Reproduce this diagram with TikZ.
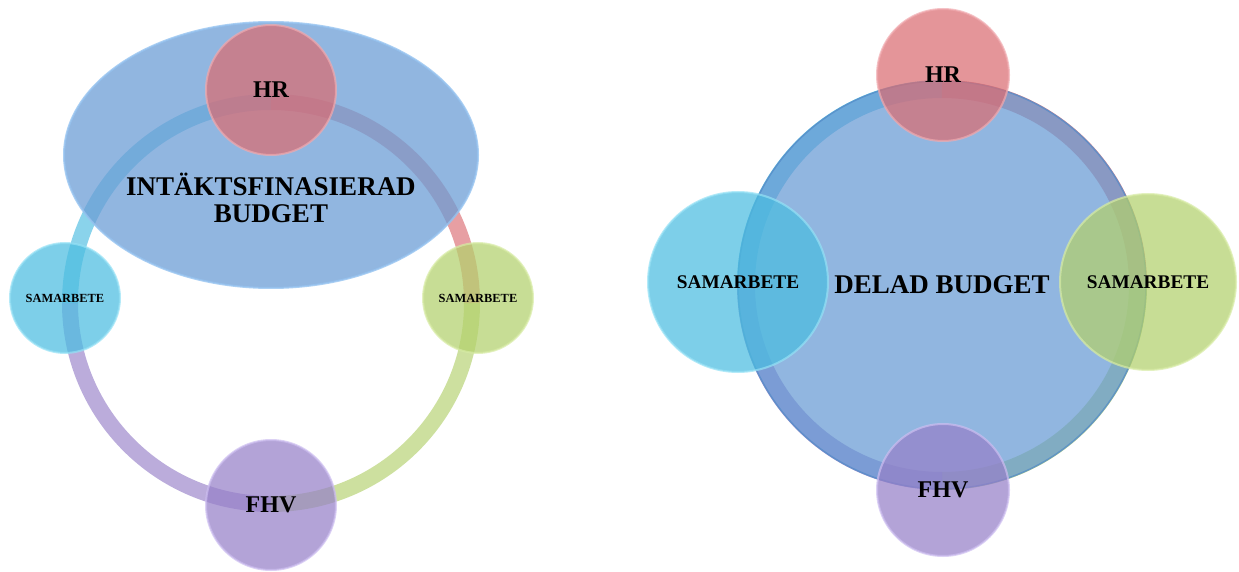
\documentclass[tikz,border=0pt]{standalone}
\usepackage{fontspec}
\setmainfont{Liberation Serif}
\usetikzlibrary{shapes.geometric}
\definecolor{cblue}{RGB}{108,158,214}
\definecolor{cblueedge}{RGB}{150,195,240}
\definecolor{cbluedark}{RGB}{85,140,200}
\definecolor{cred}{RGB}{218,108,114}
\definecolor{credge}{RGB}{240,170,175}
\definecolor{ccyan}{RGB}{75,188,224}
\definecolor{ccyanedge}{RGB}{150,225,245}
\definecolor{cgreen}{RGB}{178,208,108}
\definecolor{cgreenedge}{RGB}{215,235,165}
\definecolor{cpurple}{RGB}{150,128,200}
\definecolor{cpurpleedge}{RGB}{205,190,240}
\tikzset{
  ringseg/.style={line width=16pt, draw opacity=0.65},
  rimseg/.style={line width=18pt, draw opacity=0.8},
  bubble/.style={circle, inner sep=0pt, minimum size=#1, fill opacity=0.72,
    draw opacity=0.7, line width=2pt, text opacity=1, font=\bfseries},
  bigblue/.style={fill=cblue, fill opacity=0.75, draw=cblueedge, draw opacity=0.8,
    line width=2pt, text opacity=1, inner sep=0pt},
  lbl/.style={font=\bfseries, text=black}
}
\begin{document}
\begin{tikzpicture}[x=1pt,y=1pt]
\useasboundingbox (0,0) rectangle (1239,571);
% ---------------- left diagram ----------------
\coordinate (ringL) at (271,268);
\draw[ringseg, ccyan]   (ringL) ++(90:201)  arc[start angle=90,  end angle=180, radius=201];
\draw[ringseg, cpurple] (ringL) ++(180:201) arc[start angle=180, end angle=270, radius=201];
\draw[ringseg, cgreen]  (ringL) ++(270:201) arc[start angle=270, end angle=360, radius=201];
\draw[ringseg, cred]    (ringL) ++(0:201)   arc[start angle=0,   end angle=90,  radius=201];
\node[bigblue, ellipse, minimum width=414, minimum height=266] (budgetL) at (271,416) {};
\node[lbl, align=center, font=\bfseries\fontsize{27}{27}\selectfont] (budgetLtxt) at (271,373)
  {INTÄKTSFINASIERAD\\BUDGET};
\node[bubble=130, fill=cred, draw=credge, font=\bfseries\fontsize{24}{24}\selectfont] (hrL) at (271,481) {HR};
\node[bubble=110, fill=ccyan, draw=ccyanedge, font=\bfseries\fontsize{12.4}{13}\selectfont] (samLl) at (65,273) {SAMARBETE};
\node[bubble=110, fill=cgreen, draw=cgreenedge, font=\bfseries\fontsize{12.4}{13}\selectfont] (samLr) at (478,273) {SAMARBETE};
\node[bubble=130, fill=cpurple, draw=cpurpleedge, font=\bfseries\fontsize{24}{24}\selectfont] (fhvL) at (271,66) {FHV};
% ---------------- right diagram ----------------
\coordinate (ringR) at (942,286);
\draw[rimseg, ccyan]   (ringR) ++(90:196)  arc[start angle=90,  end angle=180, radius=196];
\draw[rimseg, cpurple] (ringR) ++(180:196) arc[start angle=180, end angle=270, radius=196];
\draw[rimseg, cgreen]  (ringR) ++(270:196) arc[start angle=270, end angle=360, radius=196];
\draw[rimseg, cred]    (ringR) ++(0:196)   arc[start angle=0,   end angle=90,  radius=196];
\node[bigblue, circle, minimum size=408, draw=cbluedark, line width=1.5pt, font=\bfseries\fontsize{27}{27}\selectfont] (budgetR) at (942,286) {DELAD BUDGET};
\node[bubble=132, fill=cred, draw=credge, font=\bfseries\fontsize{24}{24}\selectfont] (hrR) at (943,496) {HR};
\node[bubble=180, fill=ccyan, draw=ccyanedge, font=\bfseries\fontsize{19.3}{20}\selectfont] (samRl) at (738,289) {SAMARBETE};
\node[bubble=176, fill=cgreen, draw=cgreenedge, font=\bfseries\fontsize{19.3}{20}\selectfont] (samRr) at (1148,289) {SAMARBETE};
\node[bubble=132, fill=cpurple, draw=cpurpleedge, font=\bfseries\fontsize{24}{24}\selectfont] (fhvR) at (943,81) {FHV};
\end{tikzpicture}
\end{document}
